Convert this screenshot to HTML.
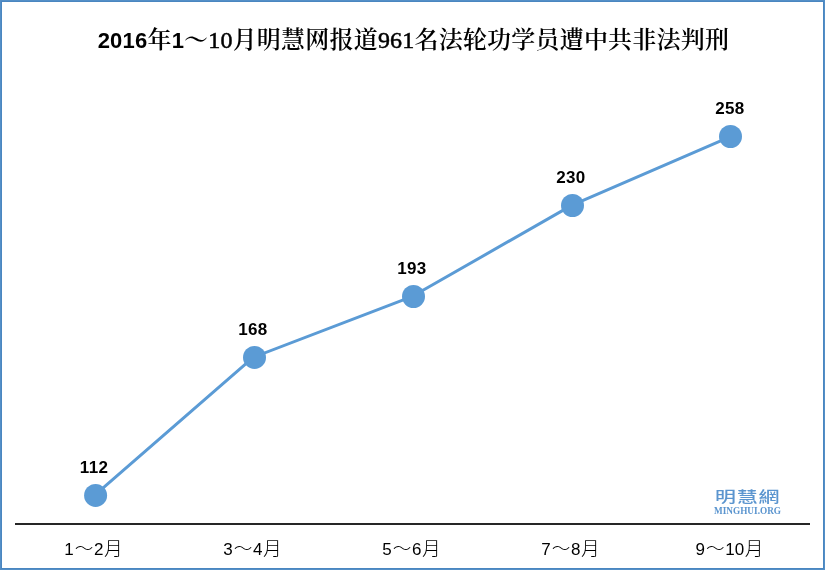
<!DOCTYPE html>
<html lang="zh">
<head>
<meta charset="utf-8">
<title>2016年1～10月明慧网报道961名法轮功学员遭中共非法判刑</title>
<style>
html,body{margin:0;padding:0;background:#fff;}
body{width:825px;height:570px;overflow:hidden;position:relative;}
#chart{position:absolute;left:0;top:0;width:825px;height:570px;box-sizing:border-box;border:1px solid #548fc7;box-shadow:inset 0 0 0 1px #4a86c0;background:#fff;}
svg{position:absolute;left:0;top:0;}
.title{position:absolute;left:0.9px;top:24px;width:825px;text-align:center;white-space:nowrap;
  font-family:"Liberation Serif","Noto Serif CJK SC",serif;font-weight:600;font-size:24px;line-height:32px;color:#000;letter-spacing:0.2px;}
.title .s{font-family:"Liberation Sans",sans-serif;font-size:22px;font-weight:bold;}
.title .r{font-family:"Liberation Serif",serif;font-weight:normal;-webkit-text-stroke:0.5px #000;}
.v{position:absolute;width:60px;text-align:center;font-family:"Liberation Sans",sans-serif;font-weight:bold;font-size:17px;line-height:20px;color:#000;letter-spacing:0.3px;}
.x{position:absolute;width:100px;text-align:center;white-space:nowrap;font-family:"Liberation Sans","Noto Sans CJK SC",sans-serif;font-size:17px;line-height:22px;color:#000;}
.x b{font-weight:300;font-family:"Noto Sans CJK SC",sans-serif;font-size:18.67px;margin-left:0.6px;}
.x b.t{font-weight:300;margin:0 0.6px 0 1px;}
</style>
</head>
<body>
<div id="chart"></div>
<svg width="825" height="570" viewBox="0 0 825 570">
  <rect x="15" y="523" width="795" height="2" fill="#262626"/>
  <polyline points="94.5,495.3 253.5,357.2 412.5,296.3 571.6,205.4 730.5,136.6" fill="none" stroke="#5b9bd5" stroke-width="3" stroke-linejoin="round"/>
  <g fill="#5b9bd5">
    <circle cx="95.6" cy="495.45" r="11.5"/>
    <circle cx="254.5" cy="357.4" r="11.5"/>
    <circle cx="413.5" cy="296.5" r="11.5"/>
    <circle cx="572.5" cy="205.5" r="11.5"/>
    <circle cx="730.5" cy="136.5" r="11.5"/>
  </g>
  <g fill="#5b95cf" style="filter:blur(0.35px)">
    <g transform="translate(714.9,501.5) scale(1.38,1)"><text x="0" y="0" font-family="'Noto Sans CJK TC','Noto Sans CJK SC',sans-serif" font-weight="500" font-size="15.2" letter-spacing="0.6">明慧網</text></g>
    <text x="714" y="513.5" font-family="'Liberation Serif',serif" font-weight="bold" font-size="10" textLength="67" lengthAdjust="spacingAndGlyphs">MINGHUI.ORG</text>
  </g>
</svg>
<div class="title"><span class="s">2016</span>年<span class="s">1</span>～<span class="r">10</span>月明慧网报道<span class="r">961</span>名法轮功学员遭中共非法判刑</div>
<div class="v" style="left:64px;top:458px;">112</div>
<div class="v" style="left:223px;top:320px;">168</div>
<div class="v" style="left:382px;top:259px;">193</div>
<div class="v" style="left:541px;top:168px;">230</div>
<div class="v" style="left:700px;top:99px;">258</div>
<div class="x" style="left:43.5px;top:536px;">1<b class="t">～</b>2<b>月</b></div>
<div class="x" style="left:202.5px;top:536px;">3<b class="t">～</b>4<b>月</b></div>
<div class="x" style="left:361.5px;top:536px;">5<b class="t">～</b>6<b>月</b></div>
<div class="x" style="left:520.5px;top:536px;">7<b class="t">～</b>8<b>月</b></div>
<div class="x" style="left:679.5px;top:536px;">9<b class="t">～</b>10<b>月</b></div>
</body>
</html>
